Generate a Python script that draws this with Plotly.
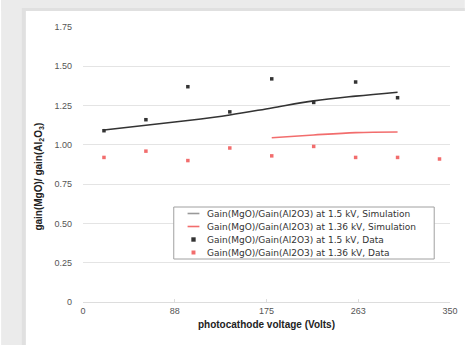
import plotly.graph_objects as go

# Measured gain ratios vs photocathode voltage
volts_data = [20, 60, 100, 140, 180, 220, 260, 300, 340]
ratio_15kv_data = [1.09, 1.16, 1.37, 1.21, 1.42, 1.27, 1.40, 1.30]
ratio_136kv_data = [0.92, 0.96, 0.90, 0.98, 0.93, 0.99, 0.92, 0.92, 0.91]

# Simulated gain ratios
volts_sim_15kv = [20, 60, 100, 140, 180, 220, 260, 300]
ratio_15kv_sim = [1.095, 1.125, 1.155, 1.19, 1.235, 1.28, 1.31, 1.335]
volts_sim_136kv = [180, 220, 260, 300]
ratio_136kv_sim = [1.045, 1.063, 1.078, 1.082]

x_ticks = [0, 87.5, 175, 262.5, 350]
x_tick_text = ["0", "88", "175", "263", "350"]
y_ticks = [0, 0.25, 0.5, 0.75, 1.0, 1.25, 1.5, 1.75]
y_tick_text = ["0", "0.25", "0.50", "0.75", "1.00", "1.25", "1.50", "1.75"]

legend_labels = [
    "Gain(MgO)/Gain(Al2O3) at 1.5 kV, Simulation",
    "Gain(MgO)/Gain(Al2O3) at 1.36 kV, Simulation",
    "Gain(MgO)/Gain(Al2O3) at 1.5 kV, Data",
    "Gain(MgO)/Gain(Al2O3) at 1.36 kV, Data",
]

W, H = 470, 345
L, R, T, B = 83, 15, 27, 43
PW, PH = W - L - R, H - T - B


def px(x):
    return (x - L) / PW


def py(y):
    return (H - B - y) / PH


BLACK = "#333333"
RED = "#f26d6d"
FONT = "Liberation Sans, Arial, sans-serif"
LEGEND_FONT = "DejaVu Sans, sans-serif"

fig = go.Figure()
fig.add_trace(go.Scatter(x=volts_sim_15kv, y=ratio_15kv_sim, mode="lines",
                         line=dict(color=BLACK, width=1.6, shape="spline"),
                         showlegend=False))
fig.add_trace(go.Scatter(x=volts_sim_136kv, y=ratio_136kv_sim, mode="lines",
                         line=dict(color=RED, width=1.6, shape="spline"),
                         showlegend=False))
fig.add_trace(go.Scatter(x=volts_data[:len(ratio_15kv_data)], y=ratio_15kv_data,
                         mode="markers",
                         marker=dict(color=BLACK, size=3.5, symbol="square"),
                         showlegend=False))
fig.add_trace(go.Scatter(x=volts_data, y=ratio_136kv_data, mode="markers",
                         marker=dict(color=RED, size=3.5, symbol="square"),
                         showlegend=False))

shapes = []
annotations = []

# card background with soft grey frame on top and left
shapes.append(dict(type="rect", xref="paper", yref="paper",
                   x0=px(0), x1=px(W), y0=py(0), y1=py(11),
                   fillcolor="#ebebeb", line=dict(width=0), layer="below"))
shapes.append(dict(type="rect", xref="paper", yref="paper",
                   x0=px(0), x1=px(25), y0=py(0), y1=py(H),
                   fillcolor="#ebebeb", line=dict(width=0), layer="below"))
shapes.append(dict(type="rect", xref="paper", yref="paper",
                   x0=px(21), x1=px(25), y0=py(11), y1=py(H),
                   fillcolor="#e0e0e0", line=dict(width=0), layer="below"))
shapes.append(dict(type="rect", xref="paper", yref="paper",
                   x0=px(21), x1=px(W), y0=py(8), y1=py(11),
                   fillcolor="#e0e0e0", line=dict(width=0), layer="below"))

# legend box
lx0, lx1, ly0, ly1 = 175, 439, 207, 259
shapes.append(dict(type="rect", xref="paper", yref="paper",
                   x0=px(lx0), x1=px(lx1), y0=py(ly0), y1=py(ly1),
                   fillcolor="white", line=dict(color="#a0a0a0", width=1)))
row_h = (ly1 - ly0) / 4
for i, label in enumerate(legend_labels):
    cy = ly0 + row_h * (i + 0.5)
    if i < 2:
        shapes.append(dict(type="line", xref="paper", yref="paper",
                           x0=px(189), x1=px(201), y0=py(cy), y1=py(cy),
                           line=dict(color="#999999" if i == 0 else RED, width=1.6)))
    else:
        s = 2.2 if i == 2 else 2
        shapes.append(dict(type="rect", xref="paper", yref="paper",
                           x0=px(195 - s), x1=px(195 + s), y0=py(cy - s), y1=py(cy + s),
                           fillcolor=BLACK if i == 2 else RED, line=dict(width=0)))
    annotations.append(dict(xref="paper", yref="paper", x=px(207), y=py(cy),
                            xanchor="left", yanchor="middle", showarrow=False,
                            text=label, font=dict(family=LEGEND_FONT, size=9, color="#333333")))

# y-axis title
annotations.append(dict(xref="paper", yref="paper", x=px(38), y=py(177),
                        xanchor="center", yanchor="middle", showarrow=False,
                        textangle=-90,
                        text="<b>gain(MgO)/ gain(Al<sub>2</sub>O<sub>3</sub>)</b>",
                        font=dict(family=FONT, size=10, color="#222222")))

fig.update_layout(
    width=W, height=H,
    margin=dict(l=L, r=R, t=T, b=B),
    paper_bgcolor="white", plot_bgcolor="white",
    shapes=shapes, annotations=annotations,
    font=dict(family=FONT, size=9, color="#555555"),
    xaxis=dict(range=[0, 350], tickvals=x_ticks, ticktext=x_tick_text,
               showgrid=False, zeroline=False, showline=True,
               linecolor="#dddddd", linewidth=1,
               ticks="inside", ticklen=3, tickcolor="#dddddd",
               title=dict(text="<b>photocathode voltage (Volts)</b>",
                          font=dict(family=FONT, size=10, color="#222222"),
                          standoff=6)),
    yaxis=dict(range=[0, 1.75], tickvals=y_ticks, ticktext=y_tick_text,
               showgrid=True, gridcolor="#e4e4e4", gridwidth=1,
               zeroline=False, showline=False, ticks="", ticklabelstandoff=10),
)

fig.write_html("out.html")
